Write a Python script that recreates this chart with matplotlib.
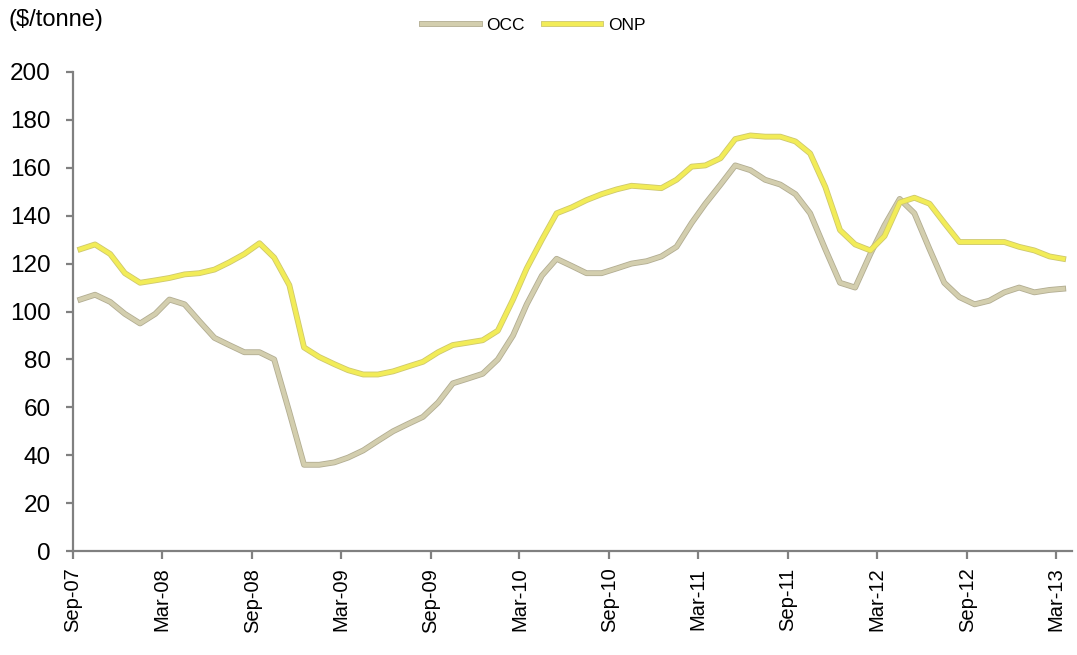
import numpy as np
import pandas as pd
import matplotlib
matplotlib.use("Agg")
from matplotlib import pyplot as plt
from matplotlib import dates as mdates
from matplotlib import patheffects as pe

plt.rcParams['font.family'] = ['Liberation Sans', 'DejaVu Sans']

# Monthly prices, Sep-07 .. Mar-13 ($/tonne)
months = pd.date_range('2007-09-01', '2013-03-01', freq='MS')

occ = [105, 107, 104, 99, 95, 99, 105, 103, 96, 89, 86, 83, 83, 80, 58, 36,
       36, 37, 39, 42, 46, 50, 53, 56, 62, 70, 72, 74, 80, 90, 103, 115,
       122, 119, 116, 116, 118, 120, 121, 123, 127, 137, 145, 153, 161, 159,
       155, 153, 149, 141, 126, 112, 110, 124, 136, 147, 141, 126, 112, 106,
       103, 104.5, 108, 110, 108, 109, 109.5]

onp = [126, 128, 124, 116, 112, 113, 114, 115.5, 116, 117.5, 120.5, 124,
       128.5, 122.5, 111, 85, 81, 78, 75.5, 73.7, 73.7, 75, 77, 79, 83, 86,
       87, 88, 92, 105, 118, 130, 141, 143.5, 146.5, 149, 151, 152.5, 152,
       151.5, 155, 160.5, 161, 164, 172, 173.5, 173, 173, 171, 166, 152, 134,
       128, 125.5, 131.5, 145.5, 147.5, 145, 137, 129, 129, 129, 129, 127,
       125.5, 123, 122]

series_names = ['OCC', 'ONP']
series_colors = ['#D3CEAE', '#F2EC58']
edge_colors = ['#B2AD92', '#CEC86E']

# points sit mid-month, ticks on the first of the month
x = months + pd.Timedelta(days=15)

fig = plt.figure(figsize=(10.77, 6.55), dpi=100)
ax = fig.add_axes([73/1077, 1-551/655, (1072-73)/1077, (551-72)/655])

for vals, name, c, ec in zip([occ, onp], series_names, series_colors, edge_colors):
    ax.plot(x, vals, color=c, lw=3.0, label=name, solid_joinstyle='round',
            path_effects=[pe.Stroke(linewidth=4.2, foreground=ec), pe.Normal()])

ax.set_ylim(0, 200)
ax.set_yticks(np.arange(0, 201, 20))
ax.set_xlim(pd.Timestamp('2007-09-01'), pd.Timestamp('2013-04-03'))
ax.xaxis.set_major_locator(mdates.MonthLocator(bymonth=[3, 9]))
ax.xaxis.set_major_formatter(mdates.DateFormatter('%b-%y'))

for s in ['top', 'right']:
    ax.spines[s].set_visible(False)
for s in ['left', 'bottom']:
    ax.spines[s].set_color('#808080')
    ax.spines[s].set_linewidth(1.6)

ax.tick_params(axis='y', direction='out', length=5, width=1.6, color='#808080',
               labelsize=17.5, pad=11)
ax.tick_params(axis='x', direction='out', length=6, width=1.6, color='#808080',
               labelsize=14.5, pad=6, labelrotation=90)

fig.text(8/1077, 1-20/655, '($/tonne)', fontsize=17, va='center', ha='left')

ax.legend(loc='center', bbox_to_anchor=(534/1077, 1-25/655), bbox_transform=fig.transFigure,
          ncol=2, frameon=False, fontsize=12.5, handlelength=3.3, handletextpad=0.4,
          columnspacing=1.1)

fig.savefig('out.png', dpi=100)
